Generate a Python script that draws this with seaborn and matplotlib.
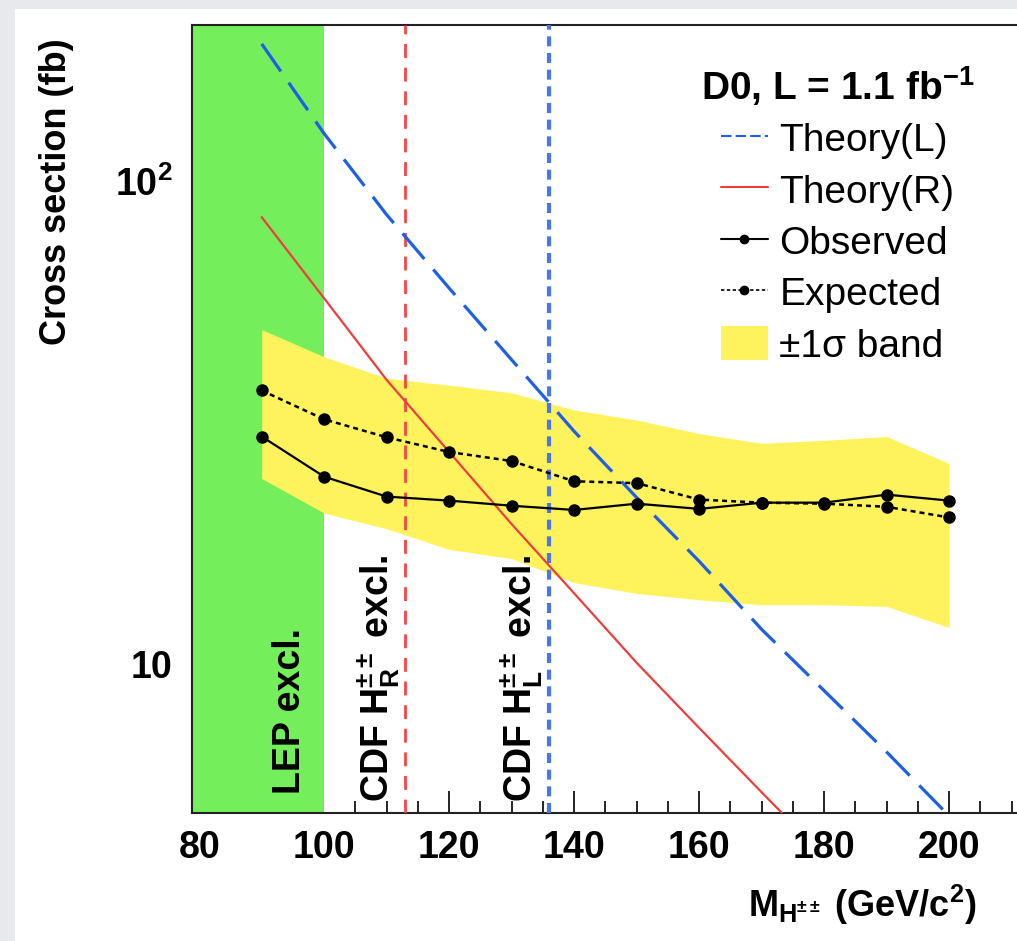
import numpy as np
import pandas as pd
import matplotlib
matplotlib.use("Agg")
import matplotlib.pyplot as plt
import seaborn as sns
from matplotlib.lines import Line2D
from matplotlib.patches import Patch, Rectangle
from matplotlib.ticker import MultipleLocator, FixedLocator, FixedFormatter, LogLocator, NullFormatter
import matplotlib.transforms as mtransforms

# ---------------- data ----------------
mass = [90, 100, 110, 120, 130, 140, 150, 160, 170, 180, 190, 200]
observed = [28.1, 23.2, 21.1, 20.7, 20.2, 19.8, 20.4, 19.9, 20.5, 20.5, 21.3, 20.7]
expected = [35.0, 30.5, 28.0, 26.1, 25.0, 22.7, 22.5, 20.8, 20.5, 20.4, 20.1, 19.1]
band_lo = [23.0, 19.5, 18.1, 16.4, 15.7, 14.0, 13.3, 12.9, 12.6, 12.6, 12.5, 11.3]
band_hi = [46.8, 41.1, 37.1, 35.9, 34.6, 31.9, 30.4, 28.5, 27.2, 27.6, 28.1, 24.7]
theory_L = [182.8, 119.1, 80.9, 57.0, 40.5, 28.8, 21.0, 15.5, 11.2, 8.36, 6.24, 4.60]
theory_R_mass = [90, 100, 110, 120, 130, 140, 150, 160, 170, 180]
theory_R = [80.0, 54.3, 36.8, 26.1, 18.5, 13.3, 9.55, 7.0, 5.15, 3.8]
lep_limit = 100
cdf_limit_R = 113
cdf_limit_L = 136
x_major = [80, 100, 120, 140, 160, 180, 200]
y_major = [10, 100]
y_major_labels = ["10", r"$\mathbf{10^{2}}$"]

# ---------------- style ----------------
sns.set_theme(style="ticks")
plt.rcParams.update({
    "font.family": ["Liberation Sans", "DejaVu Sans"],
    "font.weight": "bold",
    "text.color": "black",
    "axes.labelcolor": "black",
    "xtick.color": "black",
    "ytick.color": "black",
    "mathtext.fontset": "custom",
    "mathtext.rm": "Liberation Sans",
    "mathtext.it": "Liberation Sans:italic",
    "mathtext.bf": "Liberation Sans:bold",
    "axes.linewidth": 1.5,
})

W, H = 1017, 941
fig = plt.figure(figsize=(W / 100, H / 100), dpi=100, facecolor="#E8E9ED")
fig.patches.append(Rectangle((15 / W, 0), 1, (H - 9) / H, transform=fig.transFigure,
                             facecolor="white", edgecolor="none", zorder=-1))

xmin, xmax = 78.8, 220
px_per_gev = 6.25
ax_left, ax_bottom_px, ax_top_px = 191.7, 813.3, 25
ax = fig.add_axes([ax_left / W, (H - ax_bottom_px) / H,
                   (xmax - xmin) * px_per_gev / W, (ax_bottom_px - ax_top_px) / H])
ax.set_facecolor("white")
ax.set_yscale("log")

GREEN = "#74EE5A"
YELLOW = "#FEF35C"
BLUE = "#1E5FEA"
RED = "#EE3E3E"

ax.axvspan(xmin, lep_limit, color=GREEN, lw=0, zorder=1)
ax.fill_between(mass, band_lo, band_hi, color=YELLOW, lw=0, zorder=2)

ax.axvline(cdf_limit_R, color="#F04848", lw=2.0, dashes=(5, 3.5), zorder=3)
ax.axvline(cdf_limit_L, color="#4A74F0", lw=3.0, dashes=(2.4, 1.6), zorder=3)

sns.lineplot(x=mass, y=theory_L, ax=ax, color=BLUE, lw=2.3, zorder=4)
ax.lines[-1].set_dashes((10.5, 4.3))
sns.lineplot(x=theory_R_mass, y=theory_R, ax=ax, color=RED, lw=1.6, zorder=4)

sns.lineplot(x=mass, y=expected, ax=ax, color="black", lw=1.8, marker="o",
             markersize=9, markeredgewidth=0, zorder=6)
ax.lines[-1].set_dashes((2.0, 1.6))
sns.lineplot(x=mass, y=observed, ax=ax, color="black", lw=1.6, marker="o",
             markersize=9, markeredgewidth=0, zorder=6)

ax.set_xlim(xmin, xmax)
ax.set_ylim(4.66, 200)
ax.set_xlabel("")
ax.set_ylabel("")

# ticks
ax.xaxis.set_major_locator(FixedLocator(x_major))
ax.xaxis.set_minor_locator(MultipleLocator(5))
ax.yaxis.set_major_locator(FixedLocator(y_major))
ax.yaxis.set_major_formatter(FixedFormatter(y_major_labels))
ax.yaxis.set_minor_locator(LogLocator(base=10, subs=np.arange(2, 10)))
ax.yaxis.set_minor_formatter(NullFormatter())
ax.tick_params(axis="both", which="both", direction="in", color="black", width=1.2,
               top=False, right=False, labelcolor="black")
ax.tick_params(axis="both", which="major", length=16, labelsize=27)
ax.tick_params(axis="both", which="minor", length=8.5)
ax.tick_params(axis="x", which="major", pad=12)
ax.tick_params(axis="y", which="major", pad=14)
for s in ax.spines.values():
    s.set_visible(True)
    s.set_color("#222222")
    s.set_linewidth(1.5)

fig.canvas.draw()
for loc, t in zip(ax.xaxis.get_majorticklocs(), ax.xaxis.get_major_ticks()):
    if loc <= lep_limit:
        t.tick1line.set_visible(False)
for loc, t in zip(ax.xaxis.get_minorticklocs(), ax.xaxis.get_minor_ticks()):
    if loc <= lep_limit:
        t.tick1line.set_visible(False)
shift = mtransforms.ScaledTranslation(0, -8 / 72, fig.dpi_scale_trans)
for lab in ax.get_xticklabels() + ax.get_yticklabels():
    lab.set_fontweight("bold")
for lab in ax.get_yticklabels():
    lab.set_transform(lab.get_transform() + shift)

# annotations
tr = ax.get_xaxis_transform()
ax.text(94.6, 0.025, "LEP excl.", transform=tr, rotation=90, ha="center", va="bottom",
        fontsize=27, fontweight="bold", zorder=7)
ax.text(105.0, 0.014, r"CDF H$^{\pm\pm}_{\mathrm{R}}$ excl.", transform=tr, rotation=90,
        ha="left", va="bottom", fontsize=27, fontweight="bold", zorder=7)
ax.text(127.8, 0.014, r"CDF H$^{\pm\pm}_{\mathrm{L}}$ excl.", transform=tr, rotation=90,
        ha="left", va="bottom", fontsize=27, fontweight="bold", zorder=7)

# axis titles
fig.text(57 / W, 1 - 38 / H, "Cross section (fb)", rotation=90, ha="center", va="top",
         fontsize=26, fontweight="bold")
fig.text(977 / W, 1 - 905 / H, r"M$_{\mathrm{H^{\pm\pm}}}$ (GeV/c$^{\mathbf{2}}$)",
         ha="right", va="center", fontsize=26, fontweight="bold")

# legend
handles = [
    Line2D([], [], color=BLUE, lw=1.5, dashes=(5, 2)),
    Line2D([], [], color=RED, lw=1.5),
    Line2D([], [], color="black", lw=1.5, marker="o", markersize=6),
    Line2D([], [], color="black", lw=1.2, marker="o", markersize=6, dashes=(2, 1.5)),
    Patch(facecolor=YELLOW, edgecolor="none"),
]
labels = ["Theory(L)", "Theory(R)", "Observed", "Expected", "±1σ band"]
leg = ax.legend(handles, labels, title=r"D0, L = 1.1 fb$^{\mathbf{-1}}$",
                loc="upper left", bbox_to_anchor=(701 / W, 1 - 64 / H),
                bbox_transform=fig.transFigure, frameon=False, fontsize=28,
                title_fontproperties={"weight": "bold", "size": 28},
                handlelength=1.2, handletextpad=0.3, labelspacing=0.34,
                handleheight=0.95, borderpad=0, borderaxespad=0, numpoints=1)
for t in leg.get_texts():
    t.set_fontweight("normal")
    t.set_color("black")
leg.get_title().set_color("black")
leg.set_zorder(8)

fig.savefig("out.png", dpi=100, facecolor=fig.get_facecolor())
